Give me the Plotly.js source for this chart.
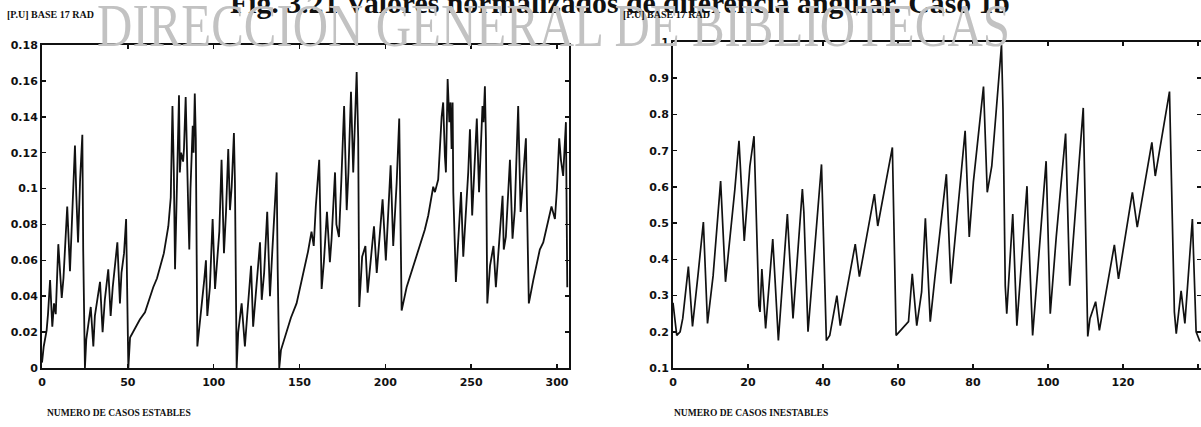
<!DOCTYPE html>
<html>
<head>
<meta charset="utf-8">
<script src="https://cdn.plot.ly/plotly-3.0.1.min.js"></script>
<style>
html,body{margin:0;padding:0;background:#fff;}
#chart{width:1201px;height:427px;}
</style>
</head>
<body>
<div id="chart"></div>
<script>
// Left panel: stable cases (case number, normalized angle difference [P.U.] base 17 rad)
const establesX = [0,1,2.7,3.5,4.7,6,7,8,9.5,11.5,12.5,14.7,16.3,17,19.2,20,21,22.2,23.5,24,25,
 25.8,28.4,29.9,30.8,33.8,35.3,36.6,38.6,40,41.2,43.9,45.4,46.3,47.8,49,49.7,50.3,
 51.3,53,55,57,60,62,64.8,67,69.7,71,73.6,75,76,76.8,77.5,78.5,79.8,80.3,81,82.2,82.7,83.7,84.5,85.2,85.8,86.5,87.8,88.3,89,89.6,90.5,
 93,94.5,95.5,96.3,97.8,99.4,100.8,101.8,103.3,104.6,106,107.2,108.5,109.5,110.5,111.8,112.4,113.4,
 114.3,116.3,118.2,119.5,121.8,123,124.5,127,128,129.4,131.2,132.8,134.1,135.7,136.7,137.3,138.2,
 139.2,142.5,145,148.3,150,152.2,154,155,157,158.3,159.5,161.5,162.9,164.2,166,167.7,168.7,170.7,171.5,173,174.4,176,177.5,178.5,180,181.3,182.3,183.3,184.2,184.8,
 186.5,188.4,189.7,191.1,193.4,195,196.5,198.4,200.3,201.6,203.1,204.6,206.6,208.1,208.5,209.5,
 212.4,215,217.2,220,223,225,227.9,228.9,230.8,232.8,233.7,234.7,235.3,236.3,237.3,238,238.6,239.2,239.6,241.1,
 242.4,244.1,245.4,247,248.3,249.3,250.6,251.8,253.3,254.6,255.6,256.6,257.2,258,258.6,259.4,
 261,263,264.4,265.8,268.3,269,270.2,272.6,274.1,275.4,277.4,278.8,280,281.9,282.3,283.6,
 286.2,290,292,294,296.8,298.8,300,301.3,302.3,303.6,305.2,306];
const establesY = [0.003,0.012,0.021,0.03,0.049,0.023,0.036,0.03,0.069,0.039,0.05,0.090,0.054,0.07,0.124,0.096,0.07,0.105,0.130,0.066,0,
 0.016,0.034,0.012,0.029,0.048,0.020,0.038,0.055,0.029,0.045,0.070,0.036,0.053,0.064,0.083,0.040,0,
 0.017,0.020,0.023,0.027,0.031,0.037,0.045,0.050,0.060,0.064,0.079,0.095,0.146,0.109,0.055,0.100,0.152,0.109,0.120,0.115,0.122,0.151,0.110,0.088,0.066,0.100,0.135,0.120,0.153,0.128,0.012,
 0.034,0.049,0.060,0.029,0.045,0.083,0.044,0.057,0.076,0.116,0.064,0.087,0.122,0.088,0.101,0.131,0.103,0,
 0.020,0.036,0.012,0.029,0.057,0.023,0.042,0.070,0.038,0.053,0.087,0.040,0.064,0.092,0.109,0.055,0,
 0.010,0.021,0.028,0.036,0.043,0.053,0.060,0.065,0.076,0.068,0.090,0.116,0.044,0.059,0.087,0.059,0.072,0.109,0.080,0.073,0.105,0.146,0.088,0.109,0.154,0.109,0.137,0.165,0.128,0.034,
 0.062,0.068,0.042,0.057,0.079,0.053,0.072,0.094,0.060,0.087,0.113,0.068,0.103,0.139,0.103,0.032,
 0.045,0.053,0.060,0.068,0.077,0.085,0.101,0.098,0.105,0.140,0.148,0.118,0.109,0.161,0.137,0.148,0.122,0.148,0.098,0.048,
 0.072,0.098,0.062,0.085,0.109,0.133,0.085,0.109,0.139,0.098,0.124,0.146,0.137,0.157,0.128,0.036,
 0.057,0.068,0.045,0.062,0.096,0.066,0.073,0.116,0.072,0.088,0.146,0.087,0.101,0.128,0.103,0.036,
 0.049,0.066,0.070,0.079,0.090,0.083,0.100,0.128,0.116,0.107,0.137,0.045];

// Right panel: unstable cases
const inestablesX = [0,1,1.9,2.6,4.1,5.2,6.7,8.1,9.2,10.7,12.7,14,16.5,17.6,19,20.5,21.6,22.9,23.2,23.7,24.7,26.6,27.2,28.1,30.5,31.2,32,34.5,34.9,36,39.6,40.9,41.8,43.7,44.6,48.6,49.7,53.7,54.6,58.5,59.5,
 62.8,63.8,65,66.3,67.3,68.6,69.8,72.9,74.1,75.1,77.9,79,80.1,82.8,83.8,85,87.6,88,88.6,89,90.6,91.7,94.4,94.6,95.9,99.5,100.6,102.2,104.7,105.8,109.4,110.6,111.2,112.7,113.7,117.7,118.8,122.5,123.8,127.7,128.6,132.4,133,133.7,134.2,135.5,136.5,138.5,139.5,140.5];
const inestablesY = [0.28,0.19,0.20,0.237,0.38,0.215,0.36,0.503,0.223,0.355,0.616,0.338,0.594,0.727,0.451,0.657,0.74,0.272,0.255,0.373,0.209,0.456,0.346,0.176,0.525,0.393,0.237,0.594,0.53,0.20,0.662,0.176,0.19,0.30,0.217,0.442,0.352,0.58,0.492,0.709,0.19,
 0.228,0.36,0.217,0.31,0.513,0.228,0.346,0.635,0.333,0.448,0.755,0.462,0.613,0.877,0.585,0.657,0.992,0.813,0.327,0.25,0.525,0.217,0.602,0.53,0.19,0.671,0.25,0.462,0.747,0.327,0.818,0.187,0.237,0.283,0.204,0.44,0.346,0.585,0.489,0.723,0.63,0.863,0.572,0.255,0.195,0.313,0.223,0.511,0.20,0.173];

const leftXTicks = [0,50,100,150,200,250,300];
const leftYTicks = [0,0.02,0.04,0.06,0.08,0.1,0.12,0.14,0.16,0.18];
const rightXTicks = [0,20,40,60,80,100,120,140];
const rightYTicks = [0.1,0.2,0.3,0.4,0.5,0.6,0.7,0.8,0.9,1];

const W = 1201, H = 427;
const tickFont = {family:'DejaVu Sans', size:11, color:'#111', weight:'bold'};
const lblFont = {family:'Liberation Serif', size:10, color:'#111', weight:'bold'};

function ax(extra){
  return Object.assign({
    showline:true, mirror:'ticks', linecolor:'#111', linewidth:2,
    ticks:'inside', ticklen:4, tickwidth:1.5, tickcolor:'#111',
    showgrid:false, zeroline:false, tickfont:tickFont, tickmode:'array', fixedrange:true
  }, extra);
}

const traces = [
  {x:establesX, y:establesY, type:'scatter', mode:'lines', line:{color:'#111', width:1.8}, xaxis:'x', yaxis:'y', hoverinfo:'skip'},
  {x:inestablesX, y:inestablesY, type:'scatter', mode:'lines', line:{color:'#111', width:1.7}, xaxis:'x2', yaxis:'y2', hoverinfo:'skip'}
];

const layout = {
  width:W, height:H, margin:{l:0,r:0,t:0,b:0},
  paper_bgcolor:'#fff', plot_bgcolor:'rgba(0,0,0,0)', showlegend:false,
  xaxis: ax({domain:[42/W, 569/W], range:[0,307], tickvals:leftXTicks, ticktext:leftXTicks.map(String), anchor:'y', ticklabelstandoff:3}),
  yaxis: ax({domain:[(H-368)/H, (H-45)/H], range:[0,0.18], tickvals:leftYTicks, ticktext:leftYTicks.map(String), anchor:'x'}),
  xaxis2: ax({domain:[673/W, 1], range:[0,140.8], tickvals:rightXTicks, ticktext:rightXTicks.map(String), anchor:'y2', ticklabelstandoff:3}),
  yaxis2: ax({domain:[(H-368)/H, (H-42)/H], range:[0.1,1], tickvals:rightYTicks, ticktext:rightYTicks.map(String), anchor:'x2'}),
  annotations: [
    {text:'Fig. 3.21 Valores normalizados de diferencia angular. Caso 1b', xref:'paper', yref:'paper', x:0.5, y:0.5, xanchor:'left', yanchor:'middle', showarrow:false,
     font:{family:'Liberation Serif', size:30, color:'#111', weight:'bold'}},
    {text:'DIRECCIÓN GENERAL DE BIBLIOTECAS', xref:'paper', yref:'paper', x:0.1, y:0.5, xanchor:'left', yanchor:'middle', showarrow:false,
     font:{family:'Liberation Serif', size:62, color:'#c2c2c2'}},
    {text:'[P.U] BASE 17 RAD', xref:'paper', yref:'paper', x:5/W, y:1-14/H, xanchor:'left', yanchor:'middle', showarrow:false, font:lblFont},
    {text:'[P.U] BASE 17 RAD', xref:'paper', yref:'paper', x:621/W, y:1-14/H, xanchor:'left', yanchor:'middle', showarrow:false, font:lblFont},
    {text:'NUMERO DE CASOS ESTABLES', xref:'paper', yref:'paper', x:45/W, y:1-413/H, xanchor:'left', yanchor:'middle', showarrow:false, font:{family:'Liberation Serif', size:9.5, color:'#111', weight:'bold'}},
    {text:'NUMERO DE CASOS INESTABLES', xref:'paper', yref:'paper', x:672/W, y:1-413/H, xanchor:'left', yanchor:'middle', showarrow:false, font:{family:'Liberation Serif', size:9.5, color:'#111', weight:'bold'}}
  ]
};

// place a text annotation so that it starts at x0 (page px), spans `width` px and sits on `baseline` (page px)
function fitText(gd, idx, x0, width, baseline, size){
  const svg = gd.querySelector('.main-svg').getBoundingClientRect();
  const g = gd.querySelectorAll('.annotation')[idx];
  if(!g) return;
  const t = g.querySelector('text');
  t.removeAttribute('transform');
  const b = t.getBBox();
  const r = t.getBoundingClientRect();
  const ox = (r.left - svg.left) - b.x;
  const oy = (r.top - svg.top) - b.y;
  const s = width / b.width;
  const tx = x0 - ox - s*b.x;
  const ty = baseline - oy - (b.y + 0.891*size);
  t.setAttribute('transform', 'translate(' + tx + ',' + ty + ') scale(' + s + ',1)');
  const bg = g.querySelector('rect');
  if(bg) bg.setAttribute('width', 0);
}

Plotly.newPlot('chart', traces, layout, {staticPlot:true, displayModeBar:false}).then(function(gd){
  fitText(gd, 0, 230, 780, 13, 30);
  fitText(gd, 1, 97, 913, 46, 62);
});
</script>
</body>
</html>
